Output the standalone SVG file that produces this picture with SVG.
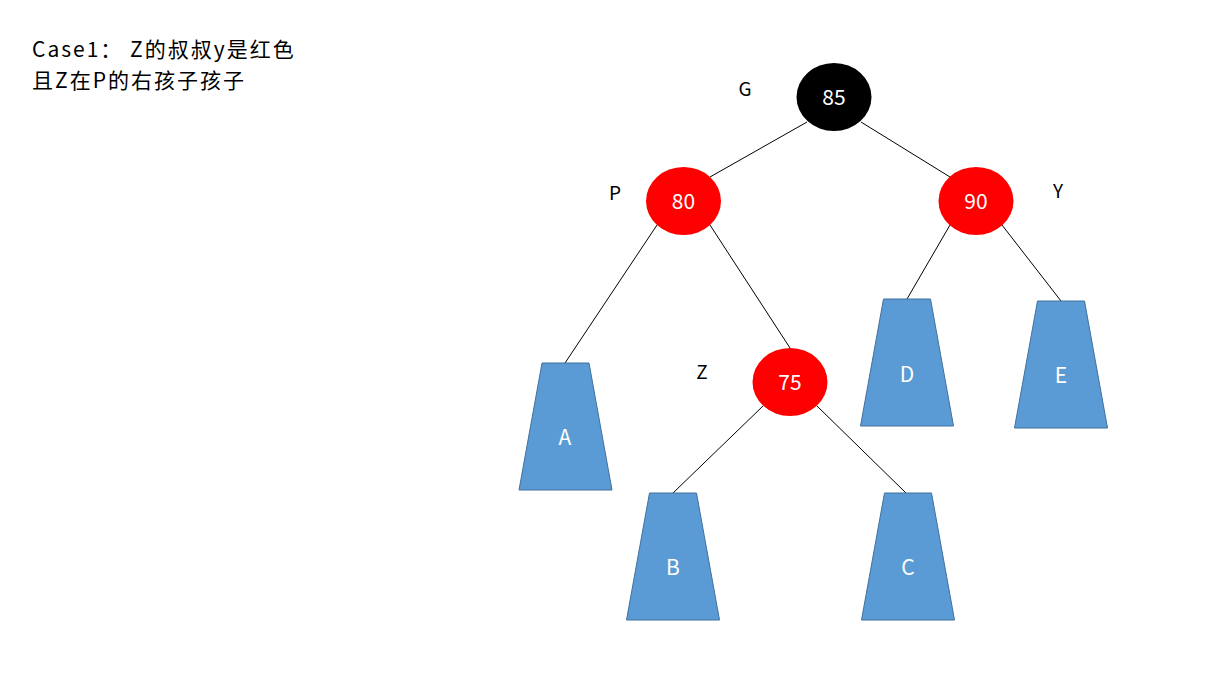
<svg xmlns="http://www.w3.org/2000/svg" width="1225" height="683" viewBox="0 0 1225 683">
<style>
text{font-family:"Noto Sans CJK SC","Liberation Sans",sans-serif;}
.title{font-size:21px;fill:#000;letter-spacing:2px;}
.lbl{font-size:19px;fill:#000;text-anchor:middle;}
.num{font-size:21px;fill:#fff;text-anchor:middle;}
.tl{font-size:21px;fill:#fff;text-anchor:middle;}
.red{fill:#ff0000;}
.blk{fill:#000;}
.trap{fill:#5b9bd5;stroke:#41719c;stroke-width:1;}
.edge{stroke:#000;stroke-width:1;fill:none;}
</style>
<rect width="1225" height="683" fill="#fff"/>
<g id="title">
<text class="title" x="32" y="57">Case1： Z的叔叔y是红色</text>
<text class="title" x="32" y="88">且Z在P的右孩子孩子</text>
</g>
<g id="connectors">
<line class="edge" x1="807" y1="122" x2="710" y2="177"/>
<line class="edge" x1="861" y1="122" x2="950" y2="177"/>
<line class="edge" x1="657" y1="225" x2="565" y2="363"/>
<line class="edge" x1="710" y1="225" x2="790" y2="348"/>
<line class="edge" x1="763" y1="406" x2="673" y2="493"/>
<line class="edge" x1="817" y1="406" x2="906" y2="493"/>
<line class="edge" x1="950" y1="225" x2="907" y2="299"/>
<line class="edge" x1="1002" y1="225" x2="1061" y2="301"/>
</g>
<g id="node-G">
<ellipse class="blk" cx="834" cy="97" rx="37.5" ry="34"/>
<text class="num" x="834" y="105">85</text>
<text class="lbl" x="745" y="96">G</text>
</g>
<g id="node-P">
<ellipse class="red" cx="683.5" cy="201" rx="37.5" ry="34"/>
<text class="num" x="683.5" y="209">80</text>
<text class="lbl" x="615" y="200">P</text>
</g>
<g id="node-Y">
<ellipse class="red" cx="976" cy="201" rx="37.5" ry="34"/>
<text class="num" x="976" y="209">90</text>
<text class="lbl" x="1058" y="198">Y</text>
</g>
<g id="node-Z">
<ellipse class="red" cx="790" cy="382" rx="37.5" ry="34"/>
<text class="num" x="790" y="390">75</text>
<text class="lbl" x="702" y="379">Z</text>
</g>
<g id="node-A">
<polygon class="trap" points="542,363 589,363 612,490 519,490"/>
<text class="tl" x="565" y="445">A</text>
</g>
<g id="node-B">
<polygon class="trap" points="649.5,493 696.5,493 719.5,620 626.5,620"/>
<text class="tl" x="673" y="575">B</text>
</g>
<g id="node-C">
<polygon class="trap" points="884.5,493 931.5,493 954.5,620 861.5,620"/>
<text class="tl" x="908" y="575">C</text>
</g>
<g id="node-D">
<polygon class="trap" points="883.5,299 930.5,299 953.5,426 860.5,426"/>
<text class="tl" x="907" y="382">D</text>
</g>
<g id="node-E">
<polygon class="trap" points="1037.5,301 1084.5,301 1107.5,428 1014.5,428"/>
<text class="tl" x="1061" y="383">E</text>
</g>
</svg>
